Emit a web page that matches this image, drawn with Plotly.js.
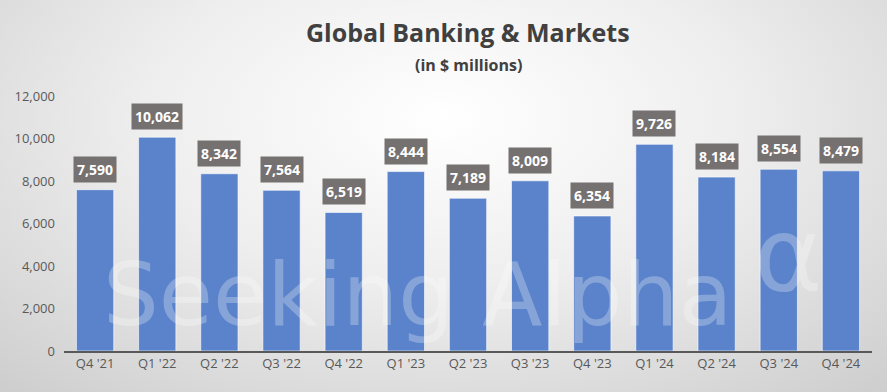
<!DOCTYPE html>
<html><head><meta charset="utf-8">
<script src="https://cdn.plot.ly/plotly-3.0.1.min.js"></script>
<style>
html,body{margin:0;padding:0;}
#chart{width:887px;height:392px;background:radial-gradient(ellipse 75% 95% at 50% 30%, #ffffff 0%, #eeeeee 45%, #cdcdcd 100%);}
</style></head><body>
<div id="chart"></div>
<script>
const categories = ["Q4 '21","Q1 '22","Q2 '22","Q3 '22","Q4 '22","Q1 '23","Q2 '23","Q3 '23","Q4 '23","Q1 '24","Q2 '24","Q3 '24","Q4 '24"];
const values = [7590,10062,8342,7564,6519,8444,7189,8009,6354,9726,8184,8554,8479];
const tickVals = [0,2000,4000,6000,8000,10000,12000];
const tickText = ["0","2,000","4,000","6,000","8,000","10,000","12,000"];

const font = "'Open Sans', 'Liberation Sans', sans-serif";
const labelAnns = categories.map((c,i)=>({
  x:c, y:values[i], xref:'x', yref:'y', yanchor:'bottom', yshift:7,
  text:'<b>'+values[i].toLocaleString('en-US')+'</b>', showarrow:false,
  bgcolor:'#767171', font:{family:font,size:14,color:'#ffffff'},
  borderpad:3
}));

const wm = 'rgba(255,255,255,0.27)';
const anns = [
  {xref:'paper',yref:'paper',x:0.046,y:0.01,xanchor:'left',yanchor:'bottom',
   text:'Seeking Alpha',showarrow:false,font:{family:"'DejaVu Sans', sans-serif",size:88,color:wm}},
  {xref:'paper',yref:'paper',x:0.852,y:0.13,xanchor:'left',yanchor:'bottom',
   text:'\u03b1',showarrow:false,font:{family:"'DejaVu Sans', sans-serif",size:104,color:wm}},
  {xref:'paper',yref:'paper',x:0.5,y:1,xanchor:'center',yanchor:'bottom',yshift:45,
   text:'<b>Global Banking &amp; Markets</b>',showarrow:false,font:{family:font,size:25,color:'#404040'}},
  {xref:'paper',yref:'paper',x:0.5,y:1,xanchor:'center',yanchor:'bottom',yshift:18,
   text:'<b>(in $ millions)</b>',showarrow:false,font:{family:font,size:16,color:'#404040'}}
].concat(labelAnns);

const trace = {
  type:'bar', x:categories, y:values,
  marker:{color:'#5b83cb', line:{color:'rgba(255,255,255,0.6)',width:1}},
  hoverinfo:'skip'
};

const layout = {
  width:887, height:392,
  margin:{l:64,r:15,t:96,b:41},
  paper_bgcolor:'rgba(0,0,0,0)', plot_bgcolor:'rgba(0,0,0,0)',
  bargap:0.4, showlegend:false,
  font:{family:font,size:13,color:'#595959'},
  xaxis:{type:'category', showline:true, linecolor:'#595959', linewidth:1.5, ticks:'', tickfont:{size:13,color:'#595959'}, showgrid:false, zeroline:false},
  yaxis:{range:[0,12000], tickvals:tickVals, ticktext:tickText, showgrid:false, zeroline:false, showline:false, tickfont:{size:13,color:'#595959'}, ticklen:0, ticks:'', ticklabelstandoff:8},
  annotations:anns
};
Plotly.newPlot('chart',[trace],layout,{staticPlot:true,displayModeBar:false});
</script></body></html>
